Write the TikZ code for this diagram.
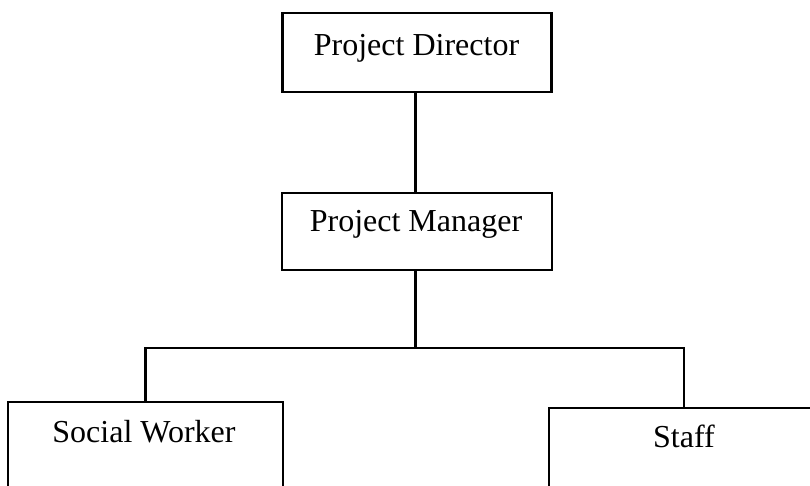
\documentclass[tikz,border=0pt]{standalone}
\usepackage{fontspec}
\setmainfont{Liberation Serif}
\begin{document}
\begin{tikzpicture}[x=1pt,y=-1pt,
  box/.style={draw=black,line width=2.2pt,rectangle,inner sep=0pt},
  lbl/.style={anchor=base,inner sep=0pt,font=\fontsize{32}{38}\selectfont},
  conn/.style={draw=black,line width=2.2pt}]
\useasboundingbox (0,0) rectangle (810,485);
\node[box,minimum width=269pt,minimum height=79pt] (pd) at (417,52.5) {};
\node[box,minimum width=270pt,minimum height=77pt] (pm) at (417,231.5) {};
\node[box,minimum width=275pt,minimum height=93pt] (sw) at (145.5,448.5) {};
\node[box,minimum width=281pt,minimum height=92pt] (st) at (689.5,454) {};
\node[lbl] (tpd) at (416.5,55) {Project Director};
\node[lbl] (tpm) at (416,231) {Project Manager};
\node[lbl] (tsw) at (144,442) {Social Worker};
\node[lbl] (tst) at (684,447) {Staff};
\coordinate (j) at (415.5,348);
\coordinate (sd) at (684,348);
\draw[conn] (pd.south -| j) -- (pm.north -| j);
\draw[conn] (pm.south -| j) -- (j);
\draw[conn] (sw.north) |- (sd) -- (sd |- st.north);
\end{tikzpicture}
\end{document}
